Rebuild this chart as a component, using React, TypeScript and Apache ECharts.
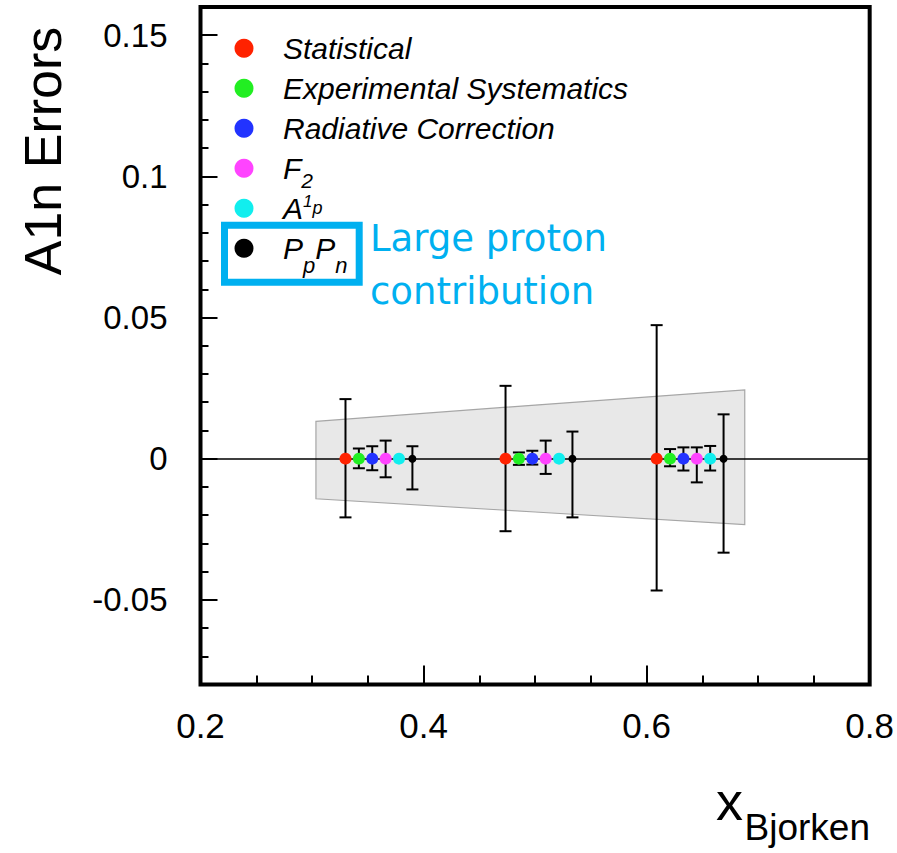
import React, { useEffect, useRef } from "react";
import * as echarts from "echarts";

// ---- data ----
const seriesNames = ["Statistical", "Experimental Systematics", "Radiative Correction", "F2", "A1p", "PpPn"];
const seriesColors = ["#ff2200", "#22ee22", "#2233ff", "#ff44ff", "#11eeee", "#000000"];
const symbolSizes = [12, 12, 12, 12, 12, 8];

const statX = [0.33, 0.4735, 0.609];
const expX = [0.342, 0.4855, 0.621];
const radX = [0.354, 0.4975, 0.633];
const f2X = [0.366, 0.5095, 0.645];
const a1pX = [0.378, 0.5215, 0.657];
const ppnX = [0.39, 0.5335, 0.669];

const pointY = [0, 0, 0];

const statUp = [0.0211, 0.0258, 0.0473];
const statDown = [0.0208, 0.0257, 0.0467];
const expUp = [0.0036, 0.0022, 0.0034];
const expDown = [0.0034, 0.0022, 0.0027];
const radUp = [0.0044, 0.0028, 0.004];
const radDown = [0.0041, 0.0021, 0.0042];
const f2Up = [0.0064, 0.0064, 0.004];
const f2Down = [0.0066, 0.0054, 0.0084];
const a1pUp = [0, 0, 0.0045];
const a1pDown = [0, 0, 0.0042];
const ppnUp = [0.0044, 0.0096, 0.0157];
const ppnDown = [0.0109, 0.0208, 0.0333];

const bandX = [0.3035, 0.5, 0.688];
const bandUpper = [0.0132, 0.019, 0.0244];
const bandLower = [-0.0142, -0.0189, -0.0234];

const xMajorTicks = [0.2, 0.4, 0.6, 0.8];
const yMajorTicks = [-0.05, 0, 0.05, 0.1, 0.15];

const xValues = [statX, expX, radX, f2X, a1pX, ppnX];
const upErrors = [statUp, expUp, radUp, f2Up, a1pUp, ppnUp];
const downErrors = [statDown, expDown, radDown, f2Down, a1pDown, ppnDown];

const legendLabels: Record<string, string> = {
  F2: "{b|F}{s1|2}",
  A1p: "{b|A}{sup|1}{sp|p}",
  PpPn: "{b|P}{s2|p}{b|P}{s2|n}",
};

const FONT = "Liberation Sans";

export default function App() {
  const ref = useRef<HTMLDivElement>(null);
  useEffect(() => {
    if (!ref.current) return;
    const chart = echarts.init(ref.current, null, { renderer: "svg" });

    const errorData: number[][] = [];
    xValues.forEach((xs, k) => {
      xs.forEach((x, i) => {
        errorData.push([x, pointY[i], upErrors[k][i], downErrors[k][i]]);
      });
    });

    const tickStyle = { color: "#000", width: 2 };
    const italic = { fontStyle: "italic", fontFamily: FONT, color: "#000", lineHeight: 30 };

    const legends = seriesNames.map((name, k) => ({
      data: [name],
      orient: "vertical",
      left: 234.5,
      top: 33.3 + 40 * k,
      padding: 0,
      itemGap: 10,
      itemWidth: 19,
      itemHeight: 19,
      icon: "circle",
      selectedMode: false,
      itemStyle: { opacity: 1, borderWidth: 0 },
      formatter: (n: string) => legendLabels[n] || n,
      textStyle: {
        fontSize: 30,
        fontStyle: "italic",
        fontFamily: FONT,
        color: "#000",
        lineHeight: 30,
        padding: [0, 0, 0, 24.5],
        rich: {
          b: { ...italic, fontSize: 30, verticalAlign: "middle" },
          s1: { ...italic, fontSize: 21, verticalAlign: "top", padding: [17, 0, 0, 0] },
          sup: { ...italic, fontSize: 17, verticalAlign: "top" },
          sp: { ...italic, fontSize: 18, verticalAlign: "middle" },
          s2: { ...italic, fontSize: 22, verticalAlign: "top", padding: [21, 0, 0, 0] },
        },
      },
    }));

    const option: any = {
      animation: false,
      backgroundColor: "#ffffff",
      grid: {
        left: 200.5,
        right: 27,
        top: 7,
        bottom: 168.5,
        show: true,
        borderColor: "#000",
        borderWidth: 4,
        backgroundColor: "transparent",
      },
      xAxis: [
        {
          type: "value",
          min: 0.2,
          max: 0.8,
          position: "bottom",
          axisLine: { show: false, onZero: false },
          splitLine: { show: false },
          axisTick: { show: true, inside: true, length: 19, customValues: xMajorTicks, lineStyle: tickStyle },
          axisLabel: {
            show: true,
            customValues: xMajorTicks,
            fontSize: 35,
            fontFamily: FONT,
            color: "#000",
            margin: 23,
            formatter: (v: number) => String(v),
          },
        },
        {
          type: "value",
          min: 0.2,
          max: 0.8,
          interval: 0.05,
          position: "bottom",
          axisLine: { show: false, onZero: false },
          splitLine: { show: false },
          axisTick: { show: true, inside: true, length: 9, lineStyle: tickStyle },
          axisLabel: { show: false },
        },
        {
          type: "value",
          min: 0.2,
          max: 0.8,
          position: "bottom",
          z: 2,
          axisLine: { show: true, onZero: true, lineStyle: { color: "#000", width: 1.5 } },
          splitLine: { show: false },
          axisTick: { show: false },
          axisLabel: { show: false },
        },
      ],
      yAxis: [
        {
          type: "value",
          min: -0.08,
          max: 0.16,
          position: "left",
          axisLine: { show: false, onZero: false },
          splitLine: { show: false },
          axisTick: { show: true, inside: true, length: 17, customValues: yMajorTicks, lineStyle: tickStyle },
          axisLabel: {
            show: true,
            customValues: yMajorTicks,
            fontSize: 33,
            fontFamily: FONT,
            color: "#000",
            margin: 33,
            formatter: (v: number) => String(v),
          },
        },
        {
          type: "value",
          min: -0.08,
          max: 0.16,
          interval: 0.01,
          position: "left",
          axisLine: { show: false, onZero: false },
          splitLine: { show: false },
          axisTick: { show: true, inside: true, length: 8, lineStyle: tickStyle },
          axisLabel: { show: false },
        },
      ],
      legend: legends,
      series: [
        {
          name: "band",
          type: "custom",
          xAxisIndex: 0,
          yAxisIndex: 0,
          z: 1,
          silent: true,
          data: bandX.map((x, i) => [x, bandUpper[i], bandLower[i]]),
          encode: { x: 0, y: 1 },
          renderItem: (params: any, api: any) => {
            if (params.dataIndex !== 0) return null;
            const pts: number[][] = [];
            for (let i = 0; i < bandX.length; i++) pts.push(api.coord([bandX[i], bandUpper[i]]));
            for (let i = bandX.length - 1; i >= 0; i--) pts.push(api.coord([bandX[i], bandLower[i]]));
            return {
              type: "polygon",
              shape: { points: pts },
              style: { fill: "#e8e8e8", stroke: "#a6a6a6", lineWidth: 1.2 },
            };
          },
        },
        {
          name: "errors",
          type: "custom",
          xAxisIndex: 0,
          yAxisIndex: 0,
          z: 3,
          silent: true,
          data: errorData,
          encode: { x: 0, y: 1 },
          renderItem: (params: any, api: any) => {
            const x = api.value(0);
            const y = api.value(1);
            const up = api.value(2);
            const dn = api.value(3);
            if (!up && !dn) return { type: "group", children: [] };
            const top = api.coord([x, y + up]);
            const bot = api.coord([x, y - dn]);
            const cap = 6;
            const st = { stroke: "#000", lineWidth: 2 };
            return {
              type: "group",
              children: [
                { type: "line", shape: { x1: top[0], y1: top[1], x2: bot[0], y2: bot[1] }, style: st },
                { type: "line", shape: { x1: top[0] - cap, y1: top[1], x2: top[0] + cap, y2: top[1] }, style: st },
                { type: "line", shape: { x1: bot[0] - cap, y1: bot[1], x2: bot[0] + cap, y2: bot[1] }, style: st },
              ],
            };
          },
        },
        ...seriesNames.map((name, k) => ({
          name,
          type: "scatter",
          xAxisIndex: 0,
          yAxisIndex: 0,
          z: 4,
          symbol: "circle",
          symbolSize: symbolSizes[k],
          itemStyle: { color: seriesColors[k], opacity: 1 },
          data: xValues[k].map((x, i) => [x, pointY[i]]),
        })),
      ],
      graphic: [
        {
          type: "text",
          x: 43,
          y: 151,
          rotation: Math.PI / 2,
          style: {
            text: "A1n Errors",
            fontSize: 52,
            fontFamily: FONT,
            fill: "#000",
            textAlign: "center",
            textVerticalAlign: "middle",
          },
        },
        {
          type: "text",
          x: 743,
          y: 801,
          style: { text: "x", fontSize: 54, fontFamily: FONT, fill: "#000", textAlign: "right", textVerticalAlign: "middle" },
        },
        {
          type: "text",
          x: 870,
          y: 827,
          style: { text: "Bjorken", fontSize: 37, fontFamily: FONT, fill: "#000", textAlign: "right", textVerticalAlign: "middle" },
        },
        {
          type: "rect",
          shape: { x: 224.5, y: 225.2, width: 134.7, height: 57 },
          style: { fill: "none", stroke: "#00b0f0", lineWidth: 7 },
        },
        {
          type: "text",
          x: 370,
          y: 212,
          style: {
            text: "Large proton\ncontribution",
            fontSize: 37,
            fontFamily: "DejaVu Sans",
            fill: "#00b0f0",
            lineHeight: 53,
            textAlign: "left",
            textVerticalAlign: "top",
          },
        },
      ],
    };

    chart.setOption(option);
    return () => chart.dispose();
  }, []);

  return (
    <div
      ref={ref}
      style={{ position: "fixed", left: 0, top: 0, width: 897, height: 853, background: "#fff" }}
    />
  );
}
